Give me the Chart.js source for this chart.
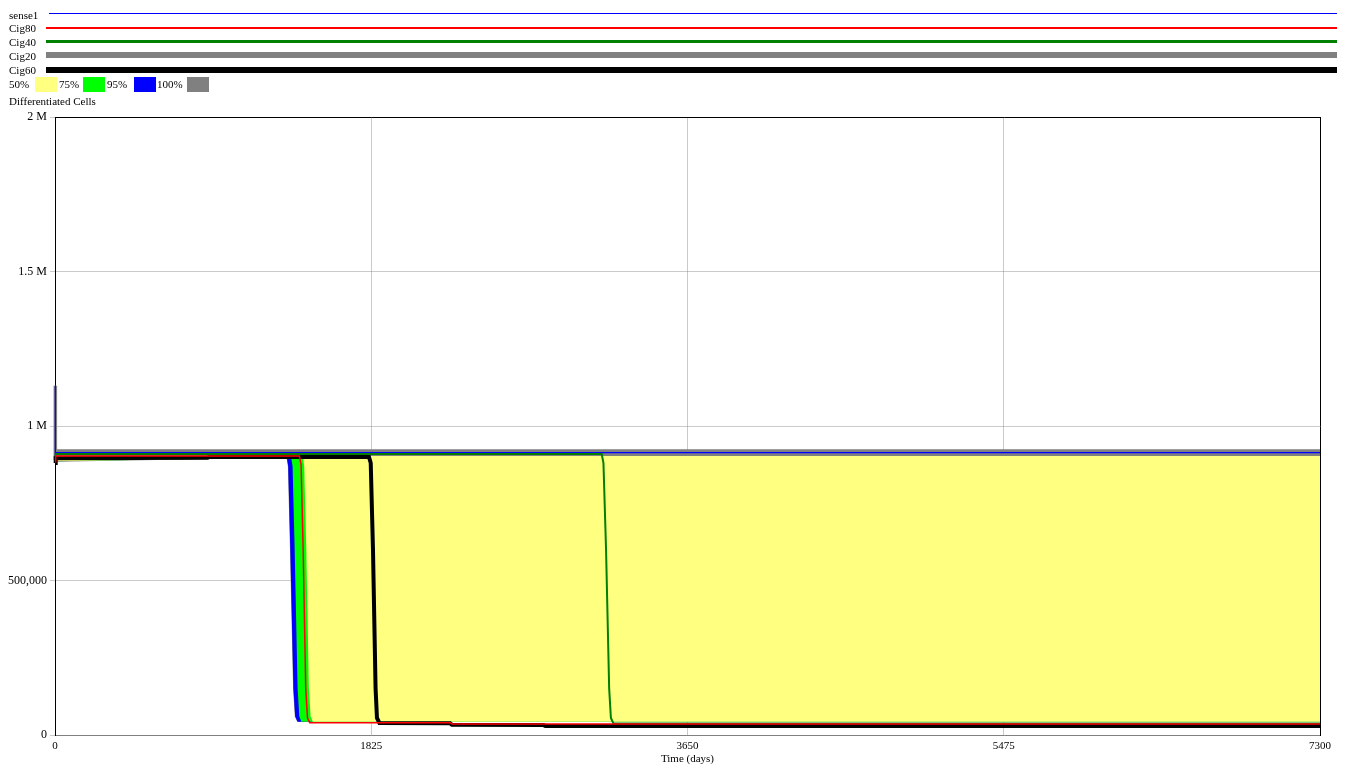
<!DOCTYPE html>
<html>
<head>
<meta charset="utf-8">
<script src="https://cdn.jsdelivr.net/npm/chart.js@4/dist/chart.umd.min.js"></script>
<style>
  html, body { margin: 0; padding: 0; background: #fff; overflow: hidden; }
  #wrap { position: relative; width: 1348px; height: 767px; font-family: "Liberation Serif", "Times New Roman", serif; }
  #wrap canvas { position: absolute; left: 0; top: 0; }
  .lbl { position: absolute; font-size: 11px; line-height: 14px; color: #000; white-space: nowrap; }
  .ln { position: absolute; right: 11px; }
  .sw { position: absolute; top: 77px; width: 22px; height: 15px; }
</style>
</head>
<body>
<div id="wrap">
  <canvas id="chart" width="1348" height="767"></canvas>
  <div id="legend"></div>
</div>
<script>
// ─── Data ────────────────────────────────────────────────────────────────────

const xTicks = [0, 1825, 3650, 5475, 7300];
const yTicks = [0, 500000, 1000000, 1500000, 2000000];
const yTickLabels = ['0', '500,000', '1 M', '1.5 M', '2 M'];

const sense1T = [0, 1, 3, 7300];
const sense1V = [890000, 1130000, 914000, 914000];

const cig20T = [0, 1, 3, 7300];
const cig20V = [890000, 1130000, 919000, 919000];

const cig80T = [0, 4, 1410, 1420, 1432, 1447, 1457, 1470, 2280, 2290, 7300];
const cig80V = [884000, 903000, 903000, 875000, 600000, 150000, 55000, 40000, 40000, 36000, 36000];

const cig40T = [0, 4, 3155, 3165, 3180, 3198, 3208, 3222, 7300];
const cig40V = [885000, 909000, 909000, 880000, 600000, 150000, 55000, 38000, 37000];

const cig60T = [0, 4, 880, 890, 1812, 1822, 1835, 1850, 1858, 1872, 2280, 2290, 2820, 2830, 7300];
const cig60V = [880000, 896000, 897000, 900000, 900000, 880000, 600000, 150000, 55000, 39000, 38000, 33000, 32000, 29000, 29000];

// sensitivity bands: lower / upper bound per time
const band100T = [0, 1, 3, 1336, 1344, 1356, 1374, 1384, 1398, 7300];
const band100Lo = [884000, 884000, 884000, 897000, 870000, 600000, 150000, 60000, 43000, 43000];
const band100Hi = [890000, 1130000, 919000, 919000, 919000, 919000, 919000, 919000, 919000, 919000];

const band95T = [0, 1338, 1346, 1358, 1376, 1386, 1400, 7300];
const band95Lo = [886000, 898000, 870000, 600000, 150000, 60000, 43000, 43000];
const band95Hi = [890000, 903000, 903000, 903000, 903000, 903000, 903000, 903000];

const band75T = [0, 1363, 1371, 1383, 1400, 1410, 1422, 7300];
const band75Lo = [886000, 898000, 870000, 600000, 150000, 60000, 43000, 43000];
const band75Hi = [890000, 903000, 903000, 903000, 903000, 903000, 903000, 903000];

const band50T = [0, 1430, 1438, 1450, 1465, 1475, 1488, 7300];
const band50Lo = [886000, 898000, 870000, 600000, 150000, 60000, 43000, 43000];
const band50Hi = [890000, 903000, 903000, 903000, 903000, 903000, 903000, 903000];

// ─── Legend ──────────────────────────────────────────────────────────────────

const legendLines = [
  { name: 'sense1', color: '#0000ff', h: 1, y: 13, left: 49 },
  { name: 'Cig80', color: '#ff0000', h: 2, y: 27, left: 46 },
  { name: 'Cig40', color: '#008000', h: 3, y: 40, left: 46 },
  { name: 'Cig20', color: '#808080', h: 6, y: 52, left: 46 },
  { name: 'Cig60', color: '#000000', h: 6, y: 67, left: 46 },
];
const legendTops = [7.6, 21, 35, 48.6, 62.6];

const bands = [
  { name: '50%', color: '#ffff80', tx: 9, sx: 35 },
  { name: '75%', color: '#00ff00', tx: 59, sx: 83 },
  { name: '95%', color: '#0000ff', tx: 107, sx: 134 },
  { name: '100%', color: '#808080', tx: 157, sx: 187 },
];

function buildLegend() {
  const el = document.getElementById('legend');
  let html = '';
  legendLines.forEach((l, i) => {
    html += `<div class="lbl" style="left:9px;top:${legendTops[i]}px">${l.name}</div>`;
    html += `<div class="ln" style="left:${l.left}px;top:${l.y}px;height:${l.h}px;background:${l.color}"></div>`;
  });
  for (const b of bands) {
    html += `<div class="lbl" style="left:${b.tx}px;top:76.6px">${b.name}</div>`;
    html += `<div class="sw" style="left:${b.sx}px;background:${b.color}"></div>`;
  }
  html += `<div class="lbl" style="left:9px;top:93.6px">Differentiated Cells</div>`;
  el.innerHTML = html;
}

// ─── Chart ───────────────────────────────────────────────────────────────────

const pts = (t, v) => t.map((x, i) => ({ x, y: v[i] }));

function line(label, t, v, color, width) {
  return { label, data: pts(t, v), borderColor: color, borderWidth: width, fill: false, clip: false };
}

function band(t, lo, hi, color) {
  return [
    { label: 'hi', data: pts(t, hi), borderWidth: 0, borderColor: 'transparent', backgroundColor: color, fill: '+1' },
    { label: 'lo', data: pts(t, lo), borderWidth: 0, borderColor: 'transparent', fill: false },
  ];
}

function renderChart() {
  const datasets = [
    line('Cig80', cig80T, cig80V, '#ff0000', 1.5),
    line('Cig60', cig60T, cig60V, '#000000', 4),
    line('Cig40', cig40T, cig40V, '#008000', 2),
    line('sense1', sense1T, sense1V, '#0000ff', 1.2),
    line('Cig20', cig20T, cig20V, '#808080', 3.5),
    ...band(band50T, band50Lo, band50Hi, '#ffff80'),
    ...band(band75T, band75Lo, band75Hi, '#00ff00'),
    ...band(band95T, band95Lo, band95Hi, '#0000ff'),
    ...band(band100T, band100Lo, band100Hi, '#808080'),
  ];

  const serif = '"Liberation Serif", "Times New Roman", serif';
  const grid = 'rgba(128,128,128,0.42)';

  new Chart(document.getElementById('chart'), {
    type: 'line',
    data: { datasets },
    options: {
      responsive: false,
      animation: false,
      events: [],
      elements: { point: { radius: 0 }, line: { tension: 0 } },
      layout: { padding: { top: 117, right: 28, left: 0, bottom: 0 } },
      plugins: { legend: { display: false }, tooltip: { enabled: false } },
      scales: {
        x: {
          type: 'linear', min: 0, max: 7300, z: 1,
          afterBuildTicks: s => { s.ticks = xTicks.map(value => ({ value })); },
          afterFit: s => { s.height = 32; },
          ticks: { font: { family: serif, size: 11 }, color: '#000', padding: 5, maxRotation: 0, callback: v => String(v) },
          grid: { color: grid, drawTicks: false },
          border: { color: '#808080', width: 1 },
          title: { display: true, text: 'Time (days)', font: { family: serif, size: 11 }, color: '#000', padding: { top: 0, bottom: 1 } },
        },
        y: {
          type: 'linear', min: 0, max: 2000000, z: 1,
          afterBuildTicks: s => { s.ticks = yTicks.map(value => ({ value })); },
          afterFit: s => { s.width = 55; },
          ticks: { font: { family: serif, size: 12 }, color: '#000', padding: 3, callback: (v, i) => yTickLabels[i] },
          grid: { color: grid, tickLength: 5 },
          border: { color: '#000', width: 1 },
        },
        xTop: {
          type: 'linear', position: 'top', min: 0, max: 7300, z: 1,
          afterFit: s => { s.height = 0; },
          ticks: { display: false }, grid: { display: false },
          border: { color: '#000', width: 1 },
        },
        yRight: {
          type: 'linear', position: 'right', min: 0, max: 2000000, z: 1,
          afterFit: s => { s.width = 0; },
          ticks: { display: false }, grid: { display: false },
          border: { color: '#000', width: 1 },
        },
      },
    },
  });
}

buildLegend();
renderChart();
</script>
</body>
</html>
